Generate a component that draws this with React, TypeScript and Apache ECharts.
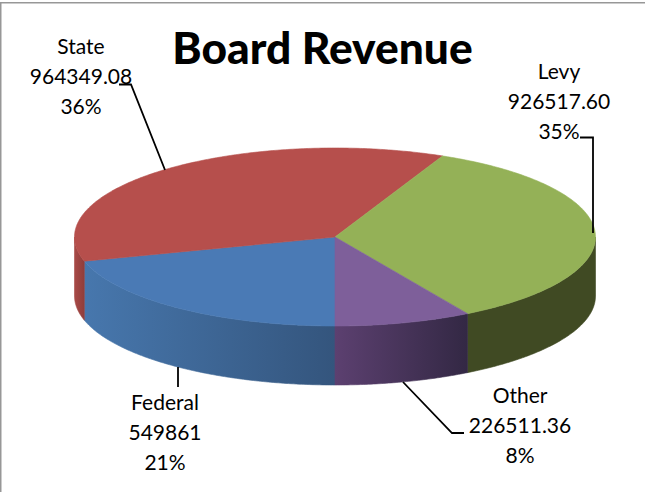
import React, { useEffect, useRef } from "react";
import * as echarts from "echarts";

const categories = ["Federal", "State", "Levy", "Other"];
const values = [549861, 964349.08, 926517.6, 226511.36];
const valueLabels = ["549861", "964349.08", "926517.60", "226511.36"];
const percentLabels = ["21%", "36%", "35%", "8%"];
const topColors = ["#4a7ab5", "#b64f4c", "#94b157", "#7e5f9a"];
const sideStops = [
  ["#4777ad", "#34557d"],
  ["#a84a47", "#8f3d3b"],
  ["#404a23", "#404a23"],
  ["#5c4070", "#332844"],
];
const labelCenters = [
  [165, 401],
  [81, 45],
  [559, 70.5],
  [520, 394],
];
const leaderLines = [
  [[178, 367], [178, 387]],
  [[119, 84.5], [131, 84.5], [165, 170]],
  [[580, 137.5], [593, 137.5], [593, 233]],
  [[403, 382], [452, 433], [464, 433]],
];

const CX = 335;
const CY = 237;
const RX = 260.5;
const RY = 89;
const DEPTH = 59;
const START = Math.PI / 2;

const total = values.reduce((a, b) => a + b, 0);
const angleRange = (idx: number) => {
  let a = START;
  for (let i = 0; i < idx; i++) a += (values[i] / total) * Math.PI * 2;
  return [a, a + (values[idx] / total) * Math.PI * 2];
};
const arcPoints = (a0: number, a1: number, dy = 0) => {
  const pts: number[][] = [];
  const n = Math.max(2, Math.ceil(Math.abs(a1 - a0) / 0.01));
  for (let i = 0; i <= n; i++) {
    const t = a0 + ((a1 - a0) * i) / n;
    pts.push([CX + RX * Math.cos(t), CY + RY * Math.sin(t) + dy]);
  }
  return pts;
};

const renderSide = (_p: any, api: any) => {
  const idx = api.value(0);
  const [a0, a1] = angleRange(idx);
  const children: any[] = [];
  // visible (front) part of the wall: angles whose sine is positive
  for (const k of [0, 2]) {
    const lo = Math.max(a0, k * Math.PI);
    const hi = Math.min(a1, (k + 1) * Math.PI);
    if (hi <= lo) continue;
    const top = arcPoints(lo, hi);
    const bottom = arcPoints(hi, lo, DEPTH);
    const grad = () =>
      new echarts.graphic.LinearGradient(0, 0, 1, 0, [
        { offset: 0, color: sideStops[idx][0] },
        { offset: 1, color: sideStops[idx][1] },
      ]);
    children.push({
      type: "polygon",
      shape: { points: top.concat(bottom) },
      style: { fill: grad(), stroke: grad(), lineWidth: 0.6 },
    });
  }
  return { type: "group", children };
};

const renderTop = (_p: any, api: any) => {
  const idx = api.value(0);
  const [a0, a1] = angleRange(idx);
  return {
    type: "polygon",
    shape: { points: [[CX, CY], ...arcPoints(a0, a1)] },
    style: { fill: topColors[idx], stroke: topColors[idx], lineWidth: 0.6 },
  };
};

const FONT = "Lato";

export default function App() {
  const ref = useRef<HTMLDivElement>(null);
  useEffect(() => {
    const chart = echarts.init(ref.current!, null, { renderer: "svg" });
    const seriesData = categories.map((c, i) => ({ name: c, value: [i, values[i]] }));
    chart.setOption({
      animation: false,
      backgroundColor: "#ffffff",
      title: {
        text: "Board Revenue",
        left: 317.5,
        top: 19,
        textAlign: "center",
        textStyle: { fontFamily: FONT, fontSize: 44.3, fontWeight: 900, color: "#000000" },
      },
      series: [
        { type: "custom", coordinateSystem: "none", renderItem: renderSide, data: seriesData, z: 1, silent: true },
        { type: "custom", coordinateSystem: "none", renderItem: renderTop, data: seriesData, z: 2, silent: true },
      ],
      graphic: [
        {
          type: "polyline",
          silent: true,
          shape: { points: [[0.75, 492], [0.75, 2.75], [645, 2.75]] },
          style: { stroke: "#979797", lineWidth: 1.5, fill: "none" },
          z: 5,
        },
        ...leaderLines.map((pts) => ({
          type: "polyline",
          silent: true,
          shape: { points: pts },
          style: { stroke: "#000000", lineWidth: 1.8, fill: "none" },
          z: 6,
        })),
        ...categories.map((c, i) => ({
          type: "text",
          silent: true,
          x: labelCenters[i][0],
          y: labelCenters[i][1] - 15,
          z: 6,
          style: {
            text: `${c}\n${valueLabels[i]}\n${percentLabels[i]}`,
            fontFamily: FONT,
            fontSize: 21,
            lineHeight: 30,
            fill: "#000000",
            align: "center",
            verticalAlign: "top",
          },
        })),
      ],
    });
    return () => chart.dispose();
  }, []);
  return <div ref={ref} style={{ position: "absolute", left: 0, top: 0, width: 645, height: 492 }} />;
}
